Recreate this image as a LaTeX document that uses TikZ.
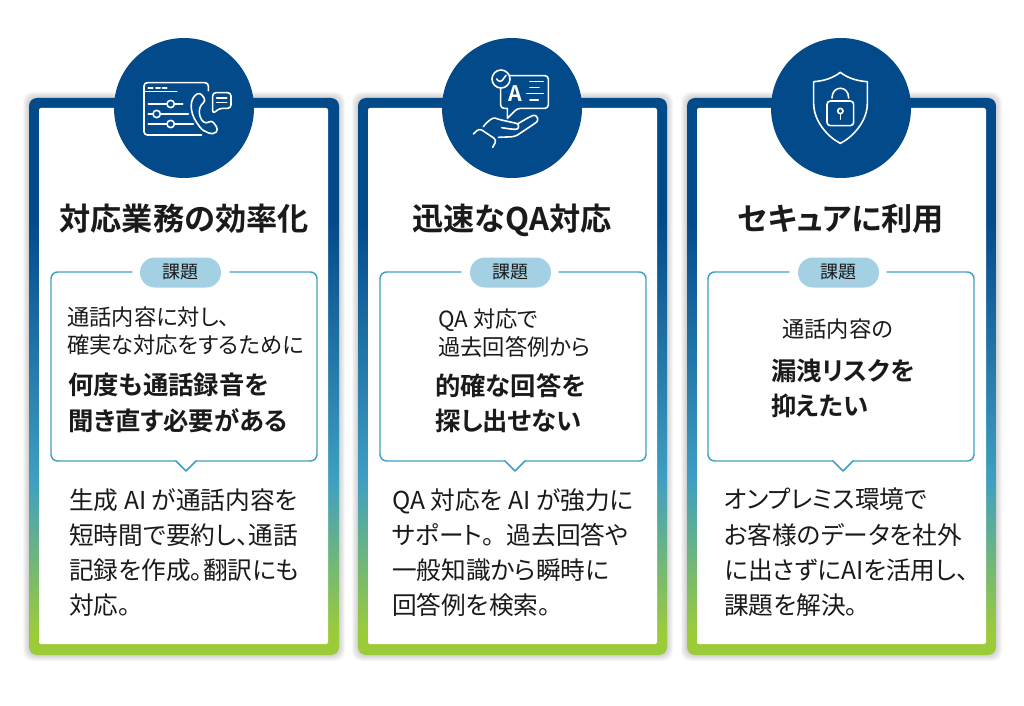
\documentclass[tikz,border=0pt]{standalone}
\usepackage{fontspec}
\setmainfont{Noto Sans CJK JP}[BoldFont=* Bold,RawFeature=+palt]
\usepackage{tikz}
\definecolor{navy}{HTML}{034A8B}
\definecolor{teal}{HTML}{3F9FC2}
\definecolor{leaf}{HTML}{9CCB3A}
\definecolor{pill}{HTML}{A3D0E2}
\definecolor{ink}{HTML}{1A1A1A}
\pgfdeclareverticalshading{cardbar}{100bp}{color(0bp)=(leaf); color(27bp)=(leaf); color(40.7bp)=(teal); color(64bp)=(navy); color(100bp)=(navy)}

\begin{document}
\begin{tikzpicture}
[x=0.75pt,y=-0.75pt,line cap=round,line join=round] 
  \tikzstyle{frame}=[rounded corners=6pt,shading=cardbar]
  \tikzstyle{halo}=[rounded corners=7pt,fill=black,opacity=0.03]
  \tikzstyle{inner}=[fill=white,rounded corners=1.5pt]
  \tikzstyle{disc}=[circle,fill=navy,minimum size=105pt,inner sep=0pt]
  \tikzstyle{bubble}=[draw=teal,line width=1.1pt,rounded corners=5pt]
  \tikzstyle{tag}=[fill=pill,rounded corners=11.2pt,minimum width=60.75pt,minimum height=22.5pt,inner sep=0pt,text=ink,font=\fontsize{13.5}{13.5}\selectfont]
  \tikzstyle{title}=[anchor=base,inner sep=0pt,text=ink,font=\fontsize{23.4}{23.4}\selectfont\bfseries]
  \tikzstyle{lead}=[anchor=north west,inner sep=0pt,align=left,text=ink,font=\fontsize{16.7}{21}\selectfont]
  \tikzstyle{point}=[anchor=north west,inner sep=0pt,align=left,text=ink,font=\fontsize{19}{26.4}\selectfont\bfseries]
  \tikzstyle{body}=[anchor=north west,inner sep=0pt,align=left,text=ink,font=\fontsize{18.5}{26.4}\selectfont]
  \tikzstyle{icon}=[draw=white,line width=1.2pt,fill=none,rounded corners=2.5pt]

  \useasboundingbox (0,0) rectangle (1024,706);

  % cards
  \foreach \s in {1,2,3,4,5,6}{
    \path[halo] (29-\s,98-\s) rectangle (339+\s,655+\s);
    \path[halo] (358-\s,98-\s) rectangle (667+\s,655+\s);
    \path[halo] (687-\s,98-\s) rectangle (996+\s,655+\s);
  }
  \path[frame] (29,98) rectangle (339,655);
  \path[frame] (358,98) rectangle (667,655);
  \path[frame] (687,98) rectangle (996,655);
  \path[inner] (39,108) rectangle (328,644);
  \path[inner] (368,108) rectangle (657,644);
  \path[inner] (697,108) rectangle (986,644);

  \node[disc] (D1) at (184,108) {};
  \node[disc] (D2) at (512,108) {};
  \node[disc] (D3) at (841,108) {};

  % call icon
  \begin{scope}[shift={(100,30)},x=0.25pt,y=-0.25pt]
    \draw[icon] (325,182) -- (325,158) -- (132,158) -- (132,315) -- (305,315);
    \draw[icon] (132,185) -- (230,185);
    \draw[icon,line width=1.5pt] (145,173) -- (158,173) (168,173) -- (180,173) (188,173) -- (200,173);
    \draw[icon] (145,222) -- (200,222) (224,222) -- (248,222);
    \draw[icon] (212,222) circle (11);
    \draw[icon] (145,252) -- (158,252) (182,252) -- (265,252);
    \draw[icon] (170,252) circle (11);
    \draw[icon] (145,282) -- (200,282) (224,282) -- (280,282);
    \draw[icon] (212,282) circle (11);
    \draw[icon] (300,187) .. controls (268,205) and (268,245) .. (295,285) .. controls (310,305) and (340,318) .. (355,298) -- (335,270) -- (318,282) .. controls (298,265) and (290,235) .. (318,212) -- cycle;
    \draw[icon] (338,188) -- (393,188) -- (393,235) -- (358,235) -- (338,252) -- cycle;
    \draw[icon] (350,204) -- (380,204) (350,217) -- (380,217);
  \end{scope}

  % answer icon
  \begin{scope}[shift={(430,30)},x=0.25pt,y=-0.25pt]
    \draw[icon] (213,147) circle (27);
    \draw[icon] (200,147) -- (211,159) -- (228,136);
    \draw[icon] (238,137) -- (355,137) -- (355,235) -- (262,235) [sharp corners] -- (232,265) -- (232,235) [rounded corners=2.5pt] -- (212,235) -- (212,173);
    \node[inner sep=0pt,text=white,font=\fontsize{16}{16}\selectfont\bfseries] (A) at (257,190) {A};
    \draw[icon] (300,155) -- (340,155) (300,172) -- (327,172) (290,190) -- (340,190) (300,210) -- (325,210);
    \draw[icon] (130,312) -- (148,295) -- (200,330) -- (188,352);
    \draw[icon] (160,290) .. controls (175,270) and (190,262) .. (205,268) -- (250,278) .. controls (268,282) and (268,298) .. (248,298) -- (215,293);
    \draw[icon] (262,282) -- (300,260) .. controls (320,252) and (328,270) .. (312,282) -- (255,320) -- (205,322);
  \end{scope}

  % lock icon
  \begin{scope}[shift={(760,30)},x=0.25pt,y=-0.25pt]
    \draw[icon,sharp corners] (241,127) .. controls (218,145) and (190,153) .. (161,155) -- (161,220) .. controls (161,275) and (205,322) .. (241,340) .. controls (277,322) and (322,275) .. (322,220) -- (322,155) .. controls (292,153) and (264,145) .. (241,127) -- cycle;
    \draw[icon] (201,213) rectangle (281,287);
    \draw[icon] (216,204) .. controls (216,165) and (266,165) .. (266,204);
    \draw[icon] (241,243) circle (8);
    \draw[icon] (241,251) -- (241,268);
  \end{scope}

  \node[title] (T1) at (184,230) {対応業務の効率化};
  \node[title] (T2) at (512,230) {迅速なQA対応};
  \node[title] (T3) at (841,230) {セキュアに利用};

  % bubbles
  \draw[bubble] (132,272) -- (51,272) -- (51,461) -- (176,461);
  \draw[bubble] (230,272) -- (317,272) -- (317,461) -- (196,461);
  \draw[teal,line width=1.1pt] (176,461) -- (186,471) -- (196,461);
  \draw[bubble] (461,272) -- (380,272) -- (380,461) -- (505,461);
  \draw[bubble] (559,272) -- (646,272) -- (646,461) -- (525,461);
  \draw[teal,line width=1.1pt] (505,461) -- (515,471) -- (525,461);
  \draw[bubble] (789,272) -- (708,272) -- (708,461) -- (833,461);
  \draw[bubble] (887,272) -- (974,272) -- (974,461) -- (853,461);
  \draw[teal,line width=1.1pt] (833,461) -- (843,471) -- (853,461);

  \node[tag] (G1) at (180.5,272.5) {課題};
  \node[tag] (G2) at (510.5,272.5) {課題};
  \node[tag] (G3) at (838.5,272.5) {課題};

  \node[lead] (L1) at (67,307) {通話内容に対し、\\確実な対応をするために};
  \node[point] (P1) at (68,373) {何度も通話録音を\\聞き直す必要がある};
  \node[lead] (L2) at (438,309) {QA 対応で\\過去回答例から};
  \node[point] (P2) at (435,373) {的確な回答を\\探し出せない};
  \node[lead] (L3) at (782,319) {通話内容の};
  \node[point] (P3) at (771,359) {漏洩リスクを\\抑えたい};

  \node[body] (B1) at (69,488) {生成 AI が通話内容を\\短時間で要約し、通話\\記録を作成。翻訳にも\\対応。};
  \node[body] (B2) at (392,488) {QA 対応を AI が強力に\\サポート。\kern.5em 過去回答や\\一般知識から瞬時に\\回答例を検索。};
  \node[body] (B3) at (724,488) {オンプレミス環境で\\お客様のデータを社外\\に出さずにAIを活用し、\\課題を解決。};
\end{tikzpicture}
\end{document}
